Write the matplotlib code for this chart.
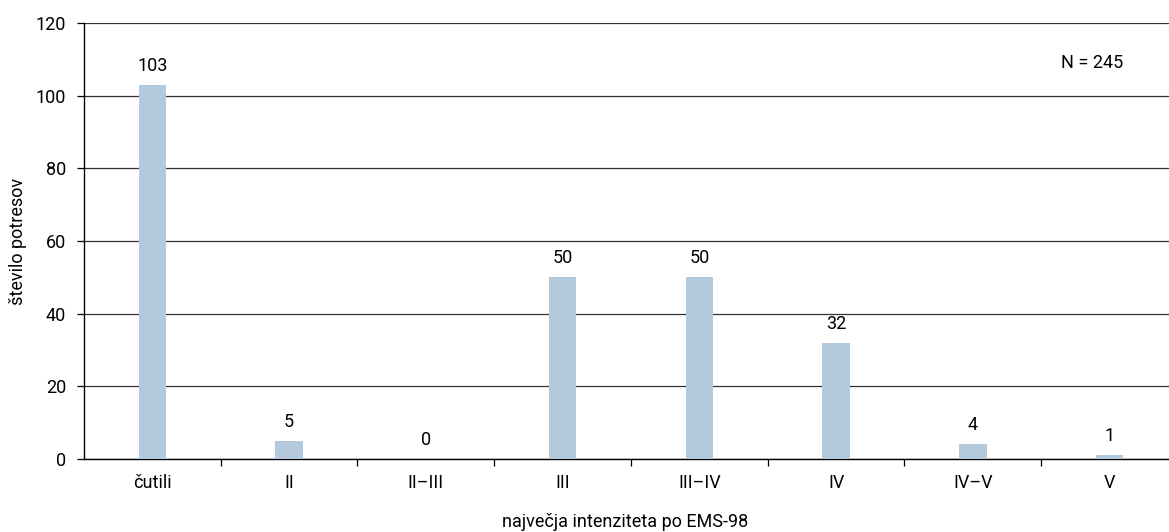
import matplotlib.pyplot as plt
import numpy as np

plt.rcParams['font.family'] = ['Roboto', 'DejaVu Sans']

kategorije = ['čutili', 'II', 'II–III', 'III', 'III–IV', 'IV', 'IV–V', 'V']
potresi = [103, 5, 0, 50, 50, 32, 4, 1]
skupaj = 245

barva = '#b4c9dc'
fs = 13

fig = plt.figure(figsize=(11.69, 5.32), dpi=100)
ax = fig.add_axes([84 / 1169, 73 / 532, 1094 / 1169, 436 / 532])

x = np.arange(len(kategorije))
ax.bar(x, potresi, width=0.2, color=barva, zorder=3)
for xi, v in zip(x, potresi):
    ax.text(xi, v + 2.8, str(v), ha='center', va='bottom', fontsize=fs)

ax.set_xlim(-0.5, len(kategorije) - 0.5)
ax.set_ylim(0, 120)
ax.set_yticks(range(0, 121, 20))
ax.yaxis.grid(True, color='#333333', linewidth=0.9, zorder=0)

# oznake kategorij na sredini, kljukice na mejah med njimi
ax.set_xticks(x)
ax.set_xticklabels(kategorije, fontsize=fs)
ax.set_xticks(np.arange(0.5, len(kategorije) - 0.5), minor=True)
ax.tick_params(axis='x', which='major', length=0, pad=11)
ax.tick_params(axis='x', which='minor', length=5, width=0.9, direction='out')
ax.tick_params(axis='y', length=5, width=0.9, labelsize=fs, pad=8)

for s in ['top', 'right']:
    ax.spines[s].set_visible(False)
ax.spines['left'].set_linewidth(1.0)
ax.spines['bottom'].set_linewidth(1.0)

fig.text(625 / 1169, 10 / 532, 'največja intenziteta po EMS-98',
         ha='center', va='center', fontsize=fs)
fig.text(18 / 1169, 291 / 532, 'število potresov', rotation=90,
         ha='center', va='center', fontsize=fs)

ax.text(6.87, 109, f'N = {skupaj}', ha='center', va='center', fontsize=fs)

fig.savefig('out.png', dpi=100)
